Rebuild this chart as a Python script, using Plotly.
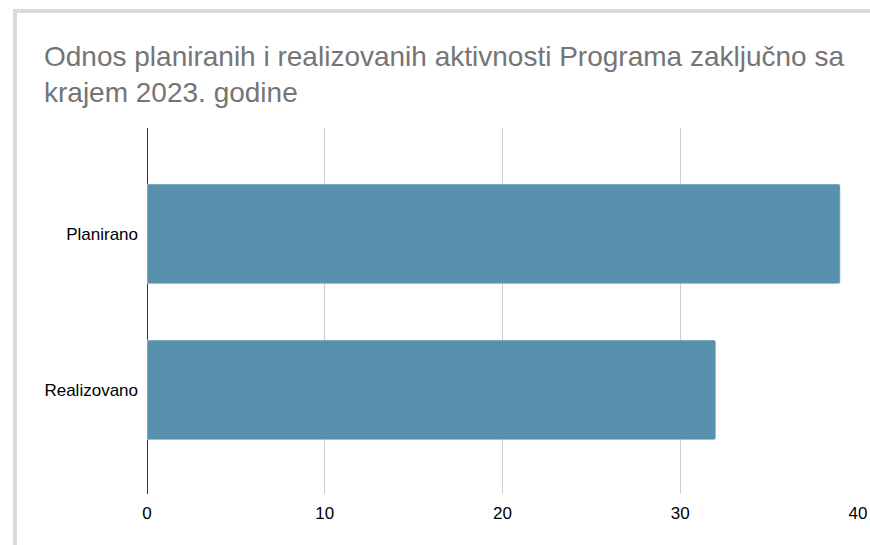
import plotly.graph_objects as go

# Chart data
categories = ["Planirano", "Realizovano"]
values = [39, 32]
x_ticks = [0, 10, 20, 30, 40]

title_text = "Odnos planiranih i realizovanih aktivnosti Programa zaključno sa<br>krajem 2023. godine"

W, H = 870, 545
margin = dict(l=147, r=12, t=128, b=51)
plot_w = W - margin["l"] - margin["r"]
plot_h = H - margin["t"] - margin["b"]


def px_to_paper(x=None, y=None):
    # convert pixel positions to paper coordinates for the frame decoration
    if x is not None:
        return (x - margin["l"]) / plot_w
    return (H - margin["b"] - y) / plot_h


fig = go.Figure()
fig.add_trace(go.Bar(
    y=categories,
    x=values,
    orientation="h",
    marker=dict(color="#5891ad", cornerradius=2),
    width=0.64,
    hoverinfo="x+y",
))

# light grey card border (left and top edges visible in the crop)
border = "#dadada"
fig.add_shape(type="rect", xref="paper", yref="paper", layer="above",
              x0=px_to_paper(x=13), x1=px_to_paper(x=17),
              y0=px_to_paper(y=600), y1=px_to_paper(y=9),
              fillcolor=border, line_width=0)
fig.add_shape(type="rect", xref="paper", yref="paper", layer="above",
              x0=px_to_paper(x=13), x1=px_to_paper(x=900),
              y0=px_to_paper(y=13), y1=px_to_paper(y=9),
              fillcolor=border, line_width=0)

fig.update_layout(
    width=W,
    height=H,
    margin=margin,
    paper_bgcolor="white",
    plot_bgcolor="white",
    showlegend=False,
    font=dict(family="Liberation Sans, Arial, sans-serif", size=17, color="#000000"),
    title=dict(
        text=title_text,
        x=44 / W,
        xanchor="left",
        xref="container",
        y=1 - 66 / H,
        yanchor="top",
        yref="container",
        font=dict(size=28, color="#757575"),
    ),
    xaxis=dict(
        range=[0, 40],
        tickvals=x_ticks,
        showgrid=True,
        gridcolor="#cccccc",
        gridwidth=1,
        zeroline=True,
        zerolinecolor="#333333",
        zerolinewidth=1,
        showline=False,
        ticks="",
        ticklabelstandoff=7,
        automargin=False,
        fixedrange=True,
    ),
    yaxis=dict(
        type="category",
        categoryorder="array",
        categoryarray=categories[::-1],
        range=[-0.667, 1.679],
        showgrid=False,
        zeroline=False,
        showline=False,
        ticks="",
        ticklabelstandoff=8,
        automargin=False,
        fixedrange=True,
    ),
)

# remove the default page margin so the figure sits at the window's corner
fig.write_html(
    "out.html",
    config={"displayModeBar": False},
    post_script="document.body.style.margin='0';document.body.style.overflow='hidden';",
)
